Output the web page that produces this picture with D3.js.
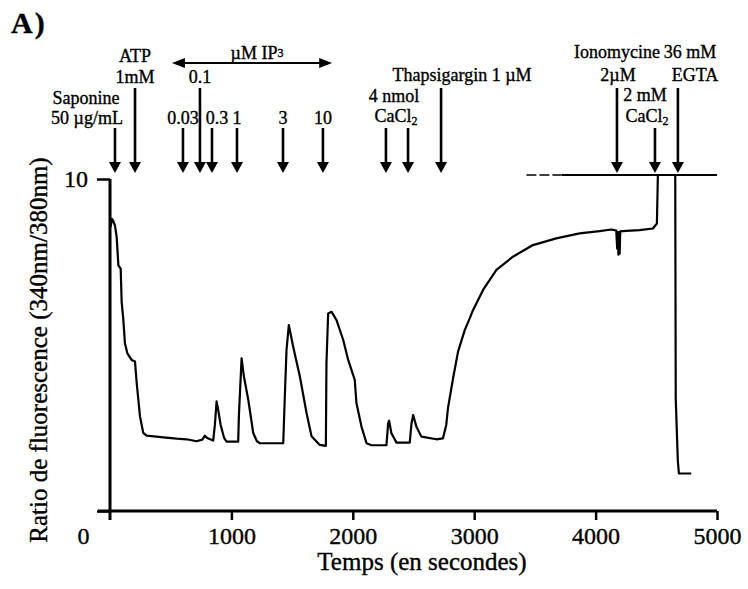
<!DOCTYPE html>
<html>
<head>
<meta charset="utf-8">
<script src="https://cdn.jsdelivr.net/npm/d3@7"></script>
<style>
  html, body { margin: 0; padding: 0; background: #fff; }
  svg text { font-family: "Liberation Serif", "Times New Roman", serif; fill: #000; stroke: #000; stroke-width: 0.35px; }
</style>
</head>
<body>
<svg id="chart" width="748" height="589"></svg>
<script>
// ---- data ----
const timeSec = [5, 15, 25, 41, 55, 69, 88, 96, 110, 123, 143, 178, 206, 220, 247, 274, 302, 439, 549, 631, 713, 760, 782, 800, 850, 864, 878, 891, 911, 940, 960,
  1056, 1062, 1084, 1103, 1139, 1180, 1210, 1235, 1427, 1440, 1454, 1473, 1509, 1564, 1619, 1660, 1728, 1778, 1783, 1797, 1825, 1866, 1921, 1962,
  2016, 2030, 2071, 2113, 2154, 2277, 2291, 2299, 2318, 2360, 2469, 2483, 2497, 2524, 2565, 2689, 2743, 2770, 2784, 2826, 2867, 2922, 2963, 2990,
  3073, 3183, 3319, 3484, 3676, 3868, 4033, 4129, 4170, 4178, 4183, 4188, 4193, 4198, 4203, 4252, 4362, 4472, 4505, 4513, 4656, 4660, 4677, 4686, 4788];
const ratio = [8.55, 8.8, 8.75, 8.6, 8.25, 7.4, 7.3, 6.3, 5.75, 5.05, 4.75, 4.55, 4.5, 3.85, 2.85, 2.35, 2.27, 2.22, 2.18, 2.16, 2.1, 2.15, 2.27, 2.2, 2.12, 2.6, 3.3, 3.05, 2.6, 2.2, 2.09,
  2.09, 2.9, 4.6, 4.05, 3.35, 2.35, 2.1, 2.04, 2.04, 3.45, 4.85, 5.6, 4.95, 4.05, 2.95, 2.25, 1.99, 1.96, 4.45, 5.95, 6.0, 5.75, 5.15, 4.55,
  3.95, 3.25, 2.55, 2.04, 1.98, 1.98, 2.64, 2.72, 2.34, 2.06, 2.06, 2.62, 2.89, 2.54, 2.24, 2.16, 2.19, 2.6, 3.1, 4.0, 4.8, 5.45, 5.8, 6.05,
  6.66, 7.26, 7.66, 8.01, 8.21, 8.36, 8.43, 8.48, 8.45, 7.9, 8.4, 7.72, 8.4, 7.75, 8.42, 8.44, 8.46, 8.51, 8.66, 10.12, 10.12, 3.4, 1.54, 1.13, 1.13];

// saturation (top of recorder) line
const satLevel = 10.12;
const satDashed = [3430, 3720];
const satSolid = [3720, 5000];

const xTicks = [0, 1000, 2000, 3000, 4000, 5000];
const yTicks = [0, 10];

// additions: time, arrow type (long = shaft from upper row)
const eventTimes =  [41, 206, 601, 741, 840, 1046, 1425, 1754, 2273, 2455, 2727, 4176, 4489, 4678];
const eventLong =   [false, true, false, true, false, false, false, false, false, false, true, true, false, true];

const ip3Range = [510, 1830];

// ---- chart ----
const svg = d3.select("#chart");
const x = d3.scaleLinear().domain([0, 5000]).range([110, 717]);
const y = d3.scaleLinear().domain([0, 10]).range([511, 179]);

// y-axis
const yAxis = d3.axisLeft(y).tickValues(yTicks).tickSizeInner(13).tickSizeOuter(0)
  .tickPadding(9).tickFormat(d => d === 10 ? "10" : "");
const gy = svg.append("g").attr("transform", `translate(${x(0)},0)`).call(yAxis);
gy.select(".domain").remove();
gy.selectAll(".tick line").attr("stroke", "#000").attr("stroke-width", 2.5);
gy.selectAll(".tick text").style("font-size", "24px");
gy.append("line").attr("x1", 0).attr("x2", 0).attr("y1", y(10)).attr("y2", y(0) + 9)
  .attr("stroke", "#000").attr("stroke-width", 3);

// x-axis
const xAxis = d3.axisBottom(x).tickValues(xTicks).tickSizeInner(9).tickSizeOuter(0).tickPadding(7)
  .tickFormat(d3.format("d"));
const gx = svg.append("g").attr("transform", `translate(0,${y(0)})`).call(xAxis);
gx.select(".domain").remove();
gx.selectAll(".tick line").attr("stroke", "#000").attr("stroke-width", 2.5);
gx.selectAll(".tick text").style("font-size", "24px");
gx.selectAll(".tick").filter(d => d === 0).select("line").remove();
gx.selectAll(".tick").filter(d => d === 0).select("text").attr("dx", -27);
gx.append("line").attr("x1", x(0) - 12).attr("x2", x(5000)).attr("y1", 0).attr("y2", 0)
  .attr("stroke", "#000").attr("stroke-width", 3);

// saturation line
svg.append("line").attr("x1", x(satDashed[0])).attr("x2", x(satDashed[1]))
  .attr("y1", y(satLevel)).attr("y2", y(satLevel))
  .attr("stroke", "#000").attr("stroke-width", 1.5).attr("stroke-dasharray", "10,3");
svg.append("line").attr("x1", x(satSolid[0])).attr("x2", x(satSolid[1]))
  .attr("y1", y(satLevel)).attr("y2", y(satLevel))
  .attr("stroke", "#000").attr("stroke-width", 2);

// trace
const pts = timeSec.map((t, i) => [t, ratio[i]]);
svg.append("path").datum(pts)
  .attr("fill", "none").attr("stroke", "#000").attr("stroke-width", 2.2).attr("stroke-linejoin", "round")
  .attr("d", d3.line().x(d => x(d[0])).y(d => y(d[1])));

// arrows
const tipY = 173, headH = 11, headW = 12;
const arrows = svg.append("g");
eventTimes.forEach((t, i) => {
  const ax = x(t);
  const top = eventLong[i] ? 88 : 128;
  arrows.append("line").attr("x1", ax).attr("x2", ax).attr("y1", top).attr("y2", tipY - headH + 1)
    .attr("stroke", "#000").attr("stroke-width", 2.6);
  arrows.append("path")
    .attr("d", `M${ax - headW / 2},${tipY - headH} L${ax + headW / 2},${tipY - headH} L${ax},${tipY} Z`)
    .attr("fill", "#000");
});

// IP3 double arrow
const ipY = 63;
const ix0 = x(ip3Range[0]), ix1 = x(ip3Range[1]);
svg.append("line").attr("x1", ix0 + 10).attr("x2", ix1 - 10).attr("y1", ipY).attr("y2", ipY)
  .attr("stroke", "#000").attr("stroke-width", 2.2);
svg.append("path").attr("d", `M${ix0},${ipY} L${ix0 + 13},${ipY - 5} L${ix0 + 13},${ipY + 5} Z`).attr("fill", "#000");
svg.append("path").attr("d", `M${ix1},${ipY} L${ix1 - 13},${ipY - 5} L${ix1 - 13},${ipY + 5} Z`).attr("fill", "#000");

// annotation labels
const ann = svg.append("g").style("font-size", "18px").attr("text-anchor", "middle");
function lab(tx, ty, txt) {
  const t = ann.append("text").attr("x", tx).attr("y", ty);
  if (Array.isArray(txt)) {
    txt.forEach(p => {
      const s = t.append("tspan").text(p[0]);
      if (p[1]) s.attr("font-size", "12px").attr("dy", p[1]);
    });
  } else t.text(txt);
  return t;
}
lab(x(206), 62, "ATP");
lab(x(206), 83, "1mM");
lab(x(741), 83, "0.1");
lab(86, 104, "Saponine");
lab(87, 124, "50 µg/mL");
lab(x(601), 124, "0.03");
lab(x(840) + 5, 124, "0.3");
lab(x(1046), 124, "1");
lab(x(1425), 124, "3");
lab(x(1754), 124, "10");
lab(257, 59, [["µM IP"], ["3", "-2"]]);
lab(462, 81, "Thapsigargin 1 µM");
lab(394, 102, "4 nmol");
lab(396, 122, [["CaCl"], ["2", "3"]]);
lab(617, 58, "Ionomycine");
lab(690, 58, "36 mM");
lab(618, 81, "2µM");
lab(695, 81, "EGTA");
lab(645, 101, "2 mM");
lab(647, 122, [["CaCl"], ["2", "3"]]);

// panel letter
svg.append("text").attr("x", 11).attr("y", 33).style("font-size", "30px").style("font-weight", "bold")
  .style("letter-spacing", "2px").text("A)");

// axis titles
svg.append("text").attr("x", 422).attr("y", 570).attr("text-anchor", "middle").style("font-size", "25px")
  .text("Temps (en secondes)");
svg.append("text").attr("transform", "translate(47,350) rotate(-90)").attr("text-anchor", "middle")
  .style("font-size", "25px").text("Ratio de fluorescence (340nm/380nm)");
</script>
</body>
</html>
